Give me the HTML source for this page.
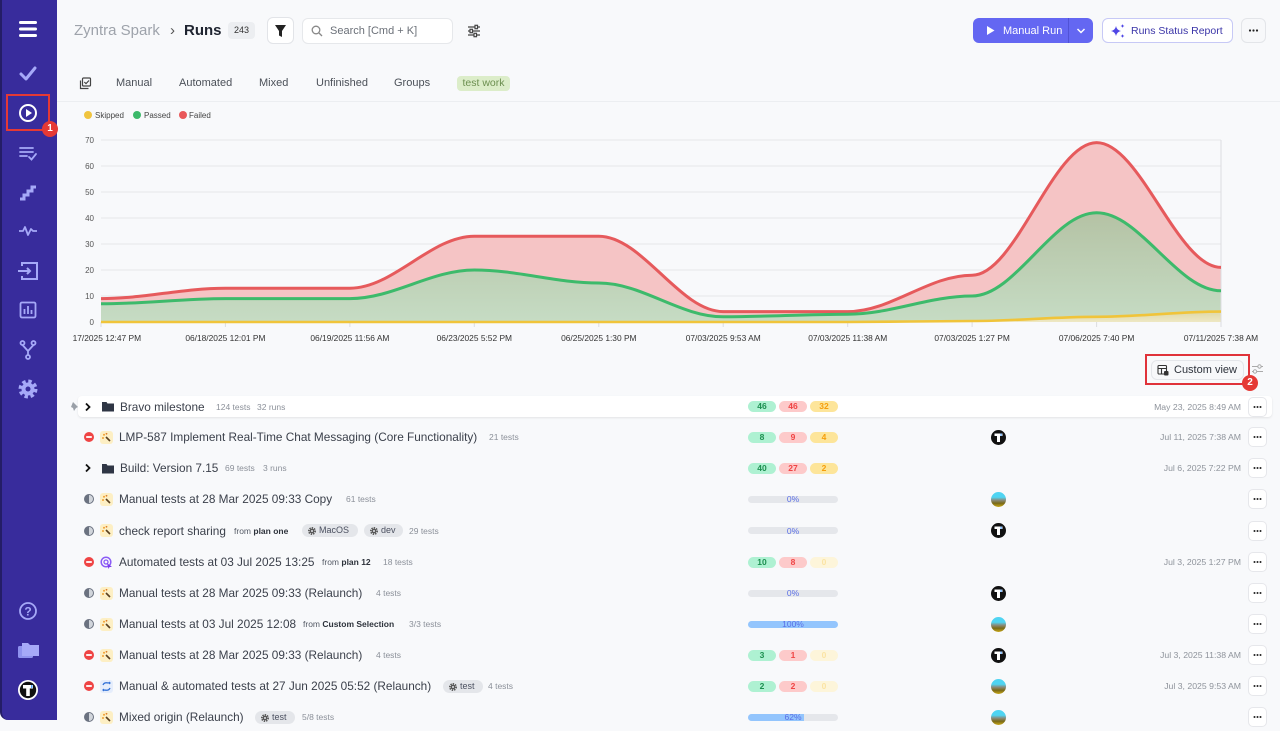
<!DOCTYPE html>
<html><head><meta charset="utf-8">
<style>
*{margin:0;padding:0;box-sizing:border-box}
html,body{width:1280px;height:720px;overflow:hidden;background:#f8f9fb;font-family:"Liberation Sans",Arial,sans-serif;color:#374151}
.abs{position:absolute}
.row{position:absolute;left:0;width:1280px;height:20px}
.t{position:absolute;top:0;line-height:20px;white-space:nowrap}
.title{font-size:11.8px;color:#3b404b}
.sm{font-size:8.5px;color:#8b9099}
.from{font-size:8.5px;color:#555b66}
.from b{color:#2d323b}
.pill{position:absolute;top:4.5px;height:11px;width:28px;border-radius:6px;font-size:8.5px;font-weight:bold;text-align:center;line-height:11px}
.g{left:748px;background:#aef1d2;color:#1c8f4f}
.r{left:779px;background:#fdcaca;color:#ef4444}
.y{left:810px;background:#fde59a;color:#f59e0b}
.y0{left:810px;background:#fdf5da;color:#fbe4a4}
.bar{position:absolute;left:748px;top:6.5px;width:90px;height:7px;border-radius:4px;background:#e5e7eb;overflow:hidden}
.bar i{display:block;height:7px;background:#93c5fd}
.pct{position:absolute;left:748px;width:90px;text-align:center;line-height:20px;font-size:8.5px;color:#5b6fe6}
.date{position:absolute;right:39px;top:0;font-size:8.7px;color:#8e939b;line-height:20px;white-space:nowrap}
.dots{position:absolute;left:1248px;top:0;width:19px;height:20px;border:1px solid #e6e7eb;border-radius:5px;background:#fff}
.av{position:absolute;left:991px;top:2.5px;width:15px;height:15px}
.st{position:absolute;left:84px;top:5px;width:10px;height:10px}
.ty{position:absolute;left:100px;top:3.5px;width:13px;height:13px}
.tag{position:absolute;top:3.5px;height:13px;border-radius:7px;background:#e4e6ea;font-size:9px;color:#4b5060;line-height:13px;padding-left:17px;white-space:nowrap}
.tag svg{position:absolute;left:6px;top:3px}
</style></head>
<body>

<!-- Sidebar -->
<div class="abs" style="left:0;top:0;width:57px;height:720px;background:#382c9c;border-left:2px solid #241d66;border-bottom-left-radius:8px"></div>
<svg class="abs" style="left:0;top:0" width="57" height="720" viewBox="0 0 57 720">
 <g fill="#fff"><rect x="19" y="21" width="18" height="3" rx="1.5"/><rect x="19" y="27.5" width="18" height="3" rx="1.5"/><rect x="19" y="34" width="18" height="3" rx="1.5"/></g>
 <polyline points="21,74 26,79 35,68" fill="none" stroke="#a6a9f8" stroke-width="3" stroke-linecap="round" stroke-linejoin="round"/>
 <circle cx="28" cy="113" r="8" fill="none" stroke="#fff" stroke-width="2"/><path d="M26,109 L26,117 L32,113 Z" fill="#fff"/>
 <g stroke="#a6a9f8" stroke-width="1.8" fill="none" stroke-linecap="round"><path d="M20,148 H33 M20,152 H33 M20,156 H27"/><path d="M29,157 L31.5,159.5 L36,154"/></g>
 <polyline points="20,199 24,199 24,195 28,195 28,191 32,191 32,187 36,187" fill="none" stroke="#a6a9f8" stroke-width="3"/>
 <polyline points="19,231 23,231 25,227 28,235 31,229 33,231 37,231" fill="none" stroke="#a6a9f8" stroke-width="1.8" stroke-linejoin="round"/>
 <g stroke="#a6a9f8" stroke-width="2" fill="none"><path d="M22,266 V263 H37 V279 H22 V276"/><path d="M18,271 H30 M27,268 L30,271 L27,274"/></g>
 <g stroke="#a6a9f8" stroke-width="1.8" fill="none"><rect x="20.5" y="302.5" width="15" height="15" rx="1.5"/><path d="M24.5,314 V309 M28,314 V306 M31.5,314 V310"/></g>
 <g stroke="#a6a9f8" stroke-width="1.8" fill="none"><circle cx="22.5" cy="343" r="2"/><circle cx="33.5" cy="343" r="2"/><circle cx="28" cy="357" r="2"/><path d="M22.5,345 L28,351 L33.5,345 M28,351 V355"/></g>
 <circle cx="28" cy="389" r="7.5" fill="none" stroke="#a6a9f8" stroke-width="4" stroke-dasharray="3.3 2.6"/><circle cx="28" cy="389" r="6.5" fill="#a6a9f8"/><circle cx="28" cy="389" r="2.5" fill="#382c9c"/>
 <circle cx="28" cy="611" r="8" fill="none" stroke="#a6a9f8" stroke-width="1.8"/><text x="28" y="615.5" text-anchor="middle" font-size="12" font-weight="bold" fill="#a6a9f8" font-family="Liberation Sans">?</text>
 <rect x="18" y="646" width="15" height="12" rx="1.5" fill="#8f92ee"/><path d="M22,643 H28 L30,645 H39 V656 H22 Z" fill="#a6a9f8"/>
 <circle cx="28" cy="690" r="10" fill="#fff"/><circle cx="28" cy="690" r="8.2" fill="#111"/><path d="M23,685 H33 V688.5 H29.8 V696 H26.2 V688.5 H23 Z" fill="#fff"/><rect x="31" y="685" width="1.5" height="3" fill="#5aa9ff"/>
</svg>
<div class="abs" style="left:6px;top:94px;width:44px;height:37px;border:2px solid #e53935"></div>
<div class="abs" style="left:42px;top:121px;width:16px;height:16px;border-radius:50%;background:#e53935;color:#fff;font-size:10px;font-weight:bold;text-align:center;line-height:16px">1</div>

<!-- Header -->
<div class="abs" style="left:74px;top:21px;font-size:15px;color:#9ea3ab;line-height:20px">Zyntra Spark</div>
<div class="abs" style="left:170px;top:21px;font-size:15px;color:#555;line-height:20px">›</div>
<div class="abs" style="left:184px;top:21px;font-size:15px;font-weight:bold;color:#1f2430;line-height:20px">Runs</div>
<div class="abs" style="left:228px;top:22px;width:27px;height:17px;border-radius:4px;background:#eceef1;font-size:9px;color:#333;text-align:center;line-height:17px">243</div>
<div class="abs" style="left:267px;top:17px;width:27px;height:27px;border-radius:6px;background:#fff;border:1px solid #e2e4e8"></div>
<svg class="abs" style="left:267px;top:17px" width="27" height="27"><path d="M8,8 H19 L15,14 V20 L12,18.5 V14 Z" fill="#222"/></svg>
<div class="abs" style="left:302px;top:18px;width:151px;height:26px;border-radius:6px;background:#fff;border:1px solid #e6e8eb"></div>
<svg class="abs" style="left:311px;top:25px" width="12" height="12"><circle cx="5" cy="5" r="3.8" fill="none" stroke="#888" stroke-width="1.3"/><path d="M8,8 L11,11" stroke="#888" stroke-width="1.3"/></svg>
<div class="abs" style="left:330px;top:21px;font-size:11px;color:#6b7078;line-height:20px">Search [Cmd + K]</div>
<svg class="abs" style="left:467px;top:24px" width="14" height="14"><g stroke="#444" stroke-width="1.3"><path d="M1,3 H13 M1,7 H13 M1,11 H13"/></g><g fill="#f8f9fb" stroke="#444" stroke-width="1.2"><rect x="8" y="1.3" width="2.5" height="3.4"/><rect x="3" y="5.3" width="2.5" height="3.4"/><rect x="7" y="9.3" width="2.5" height="3.4"/></g></svg>

<div class="abs" style="left:973px;top:18px;width:120px;height:25px;border-radius:6px;background:#6467f2"></div>
<div class="abs" style="left:1068px;top:18px;width:1px;height:25px;background:#5052d6"></div>
<svg class="abs" style="left:986px;top:25px" width="10" height="11"><path d="M1,1 L1,10 L8.5,5.5 Z" fill="#fff"/></svg>
<div class="abs" style="left:1003px;top:20.5px;font-size:11px;color:#fff;line-height:20px">Manual Run</div>
<svg class="abs" style="left:1076px;top:27px" width="10" height="8"><path d="M1.5,2 L5,5.5 L8.5,2" fill="none" stroke="#fff" stroke-width="1.5"/></svg>
<div class="abs" style="left:1102px;top:18px;width:131px;height:25px;border-radius:6px;background:#fff;border:1px solid #c7c9f6"></div>
<svg class="abs" style="left:1110px;top:23px" width="16" height="16"><path d="M6,3 Q6.8,7.2 11,8 Q6.8,8.8 6,13 Q5.2,8.8 1,8 Q5.2,7.2 6,3 Z" fill="#4f46e5"/><path d="M12.5,1 Q12.8,2.7 14.5,3 Q12.8,3.3 12.5,5 Q12.2,3.3 10.5,3 Q12.2,2.7 12.5,1 Z" fill="#4f46e5"/><path d="M12.5,11 Q12.8,12.7 14.5,13 Q12.8,13.3 12.5,15 Q12.2,13.3 10.5,13 Q12.2,12.7 12.5,11 Z" fill="#4f46e5"/></svg>
<div class="abs" style="left:1131px;top:20.5px;font-size:10.5px;color:#3b35a8;line-height:20px">Runs Status Report</div>
<div class="abs" style="left:1241px;top:18px;width:25px;height:25px;border-radius:6px;background:#f7f8fa;border:1px solid #e3e5e9"></div>
<svg class="abs" style="left:1241px;top:18px" width="25" height="25"><g fill="#222"><circle cx="9" cy="12.5" r="1.1"/><circle cx="12.5" cy="12.5" r="1.1"/><circle cx="16" cy="12.5" r="1.1"/></g></svg>

<!-- Tabs -->
<svg class="abs" style="left:79px;top:77px" width="13" height="13"><g fill="none" stroke="#444" stroke-width="1.2"><rect x="3.5" y="1" width="8" height="8" rx="1"/><path d="M1.5,3.5 V11.5 H9.5"/><path d="M5.3,5 L7,6.7 L10,3.5"/></g></svg>
<div class="abs" style="left:116px;top:73px;font-size:11px;color:#4b5058;line-height:20px">Manual</div>
<div class="abs" style="left:179px;top:73px;font-size:11px;color:#4b5058;line-height:20px">Automated</div>
<div class="abs" style="left:259px;top:73px;font-size:11px;color:#4b5058;line-height:20px">Mixed</div>
<div class="abs" style="left:316px;top:73px;font-size:11px;color:#4b5058;line-height:20px">Unfinished</div>
<div class="abs" style="left:394px;top:73px;font-size:11px;color:#4b5058;line-height:20px">Groups</div>
<div class="abs" style="left:457px;top:75.5px;width:53px;height:15px;border-radius:4px;background:#dcedc9;font-size:10.5px;color:#6c8f50;text-align:center;line-height:15px">test work</div>
<div class="abs" style="left:57px;top:101px;width:1223px;height:1px;background:#eceef1"></div>

<!-- Chart -->
<svg class="abs" style="left:73px;top:103px" width="1207" height="245" viewBox="73 103 1207 245">
 <defs>
  <linearGradient id="gg" gradientUnits="userSpaceOnUse" x1="0" y1="212" x2="0" y2="322"><stop offset="0" stop-color="#b4c2a4"/><stop offset="1" stop-color="#c6dcc4"/></linearGradient>
  <linearGradient id="yg" gradientUnits="userSpaceOnUse" x1="0" y1="311" x2="0" y2="322"><stop offset="0" stop-color="#ddd7a6"/><stop offset="1" stop-color="#eee8c4"/></linearGradient>
 </defs>
 <g font-family="Liberation Sans" font-size="8" fill="#444">
  <circle cx="88" cy="115" r="4" fill="#f0c43f"/><text x="95" y="118">Skipped</text>
  <circle cx="137" cy="115" r="4" fill="#3cb96a"/><text x="144" y="118">Passed</text>
  <circle cx="183" cy="115" r="4" fill="#e9585a"/><text x="189" y="118">Failed</text>
 </g>
 <g stroke="#e6e7ea" stroke-width="1">
  <path d="M101,140 H1221 M101,166 H1221 M101,192 H1221 M101,218 H1221 M101,244 H1221 M101,270 H1221 M101,296 H1221"/>
 </g>
 <g font-family="Liberation Sans" font-size="8" fill="#555" text-anchor="end">
  <text x="94" y="143">70</text><text x="94" y="169">60</text><text x="94" y="195">50</text><text x="94" y="221">40</text><text x="94" y="247">30</text><text x="94" y="273">20</text><text x="94" y="299">10</text><text x="94" y="325">0</text>
 </g>
 <path d="M101,298.6 C144.5,298.6 181.9,288.2 225.4,288.2 C268.9,288.2 306.4,288.2 349.9,288.2 C393.4,288.2 430.8,236.2 474.3,236.2 C517.8,236.2 555.3,236.2 598.8,236.2 C642.3,236.2 679.7,311.6 723.2,311.6 C766.7,311.6 804.2,311.6 847.7,311.6 C891.2,311.6 928.6,275.2 972.1,275.2 C1015.6,275.2 1053.1,142.6 1096.6,142.6 C1140.1,142.6 1177.5,267.4 1221,267.4 L1221,322 L101,322 Z" fill="#f5c4c5"/>
 <path d="M101,303.8 C144.5,303.8 181.9,298.6 225.4,298.6 C268.9,298.6 306.4,298.6 349.9,298.6 C393.4,298.6 430.8,270 474.3,270 C517.8,270 555.3,283 598.8,283 C642.3,283 679.7,316.8 723.2,316.8 C766.7,316.8 804.2,314.2 847.7,314.2 C891.2,314.2 928.6,296 972.1,296 C1015.6,296 1053.1,212.8 1096.6,212.8 C1140.1,212.8 1177.5,290.8 1221,290.8 L1221,322 L101,322 Z" fill="url(#gg)"/>
 <path d="M101,322 L847.7,322 C891.2,322 928.6,321 972.1,321 C1015.6,321 1053.1,316.8 1096.6,316.8 C1140.1,316.8 1177.5,311.6 1221,311.6 L1221,322 Z" fill="url(#yg)"/>
 <g stroke="#dcdde0" stroke-width="1"><path d="M101,322 V327 M225.4,322 V327 M349.9,322 V327 M474.3,322 V327 M598.8,322 V327 M723.2,322 V327 M847.7,322 V327 M972.1,322 V327 M1096.6,322 V327 M1221,322 V327 M1221,140 V322"/></g>
 <path d="M101,298.6 C144.5,298.6 181.9,288.2 225.4,288.2 C268.9,288.2 306.4,288.2 349.9,288.2 C393.4,288.2 430.8,236.2 474.3,236.2 C517.8,236.2 555.3,236.2 598.8,236.2 C642.3,236.2 679.7,311.6 723.2,311.6 C766.7,311.6 804.2,311.6 847.7,311.6 C891.2,311.6 928.6,275.2 972.1,275.2 C1015.6,275.2 1053.1,142.6 1096.6,142.6 C1140.1,142.6 1177.5,267.4 1221,267.4" fill="none" stroke="#e65a5c" stroke-width="3"/>
 <path d="M101,303.8 C144.5,303.8 181.9,298.6 225.4,298.6 C268.9,298.6 306.4,298.6 349.9,298.6 C393.4,298.6 430.8,270 474.3,270 C517.8,270 555.3,283 598.8,283 C642.3,283 679.7,316.8 723.2,316.8 C766.7,316.8 804.2,314.2 847.7,314.2 C891.2,314.2 928.6,296 972.1,296 C1015.6,296 1053.1,212.8 1096.6,212.8 C1140.1,212.8 1177.5,290.8 1221,290.8" fill="none" stroke="#3dba6b" stroke-width="3"/>
 <path d="M101,322 L847.7,322 C891.2,322 928.6,321 972.1,321 C1015.6,321 1053.1,316.8 1096.6,316.8 C1140.1,316.8 1177.5,311.6 1221,311.6" fill="none" stroke="#f0c43a" stroke-width="2.6"/>
 <g font-family="Liberation Sans" font-size="8.4" fill="#333" text-anchor="middle">
  <text x="101" y="341">06/17/2025 12:47 PM</text>
  <text x="225.4" y="341">06/18/2025 12:01 PM</text>
  <text x="349.9" y="341">06/19/2025 11:56 AM</text>
  <text x="474.3" y="341">06/23/2025 5:52 PM</text>
  <text x="598.8" y="341">06/25/2025 1:30 PM</text>
  <text x="723.2" y="341">07/03/2025 9:53 AM</text>
  <text x="847.7" y="341">07/03/2025 11:38 AM</text>
  <text x="972.1" y="341">07/03/2025 1:27 PM</text>
  <text x="1096.6" y="341">07/06/2025 7:40 PM</text>
  <text x="1221" y="341">07/11/2025 7:38 AM</text>
 </g>
</svg>

<!-- Custom view -->
<div class="abs" style="left:1151px;top:360px;width:93px;height:20px;border-radius:6px;background:#f7f8fa;border:1px solid #e4e6ea"></div>
<svg class="abs" style="left:1157px;top:364px" width="12" height="12"><g fill="none" stroke="#333" stroke-width="1.1"><rect x="1" y="1.5" width="8.5" height="8.5" rx="1"/><path d="M1,4.5 H9.5 M4.5,4.5 V10"/></g><rect x="7" y="7" width="4.5" height="4.5" rx="1" fill="#333"/></svg>
<div class="abs" style="left:1174px;top:360px;font-size:11px;color:#2d323b;line-height:20px">Custom view</div>
<div class="abs" style="left:1145px;top:354px;width:105px;height:31px;border:2px solid #e0333a"></div>
<div class="abs" style="left:1242px;top:375px;width:16px;height:16px;border-radius:50%;background:#e53935;color:#fff;font-size:10px;font-weight:bold;text-align:center;line-height:16px">2</div>
<svg class="abs" style="left:1251px;top:363px" width="13" height="12"><g stroke="#aaa" stroke-width="1" fill="#f8f9fb"><path d="M1,3.5 H12 M1,8.5 H12"/><circle cx="8.5" cy="3.5" r="1.7"/><circle cx="4" cy="8.5" r="1.7"/></g></svg>

<!-- Row 1 -->
<div class="abs" style="left:78px;top:396px;width:1194px;height:21px;background:#fff;border-radius:4px;box-shadow:0 1px 2px rgba(0,0,0,0.09)"></div>
<div class="row" style="top:396.5px">
 <svg class="abs" style="left:70px;top:4px" width="10" height="11"><path d="M3,1 L8,6 L6,7 L4,10 L3,7 L1,6 Z" fill="#9aa0a8"/></svg>
 <svg class="abs" style="left:84px;top:5px" width="8" height="10"><path d="M2,1.5 L5.5,5 L2,8.5" fill="none" stroke="#111" stroke-width="1.8"/></svg>
 <svg class="abs" style="left:102px;top:4.5px" width="12" height="11"><path d="M0,1 H4.5 L5.5,2.5 H12 V10.5 H0 Z" fill="#2f3645"/></svg>
 <div class="t title" style="left:120px">Bravo milestone</div>
 <div class="t sm" style="left:216px">124 tests</div><div class="t sm" style="left:257px">32 runs</div>
 <div class="pill g">46</div><div class="pill r">46</div><div class="pill y">32</div>
 <div class="date">May 23, 2025 8:49 AM</div>
 <div class="dots"><svg width="17" height="18"><g fill="#222"><circle cx="5.5" cy="9" r="1"/><circle cx="8.5" cy="9" r="1"/><circle cx="11.5" cy="9" r="1"/></g></svg></div>
</div>

<!-- Row 2 -->
<div class="row" style="top:427px">
 <svg class="st"><circle cx="5" cy="5" r="5" fill="#ef4444"/><rect x="2.2" y="4.1" width="5.6" height="1.8" fill="#fff"/></svg>
 <svg class="ty"><rect width="13" height="13" rx="3" fill="#fdefc4"/><circle cx="4" cy="3.8" r="1" fill="#f0a030"/><circle cx="3" cy="7" r="1" fill="#f0a030"/><circle cx="6.5" cy="2.8" r="0.9" fill="#e0802a"/><path d="M6,6 L10,10" stroke="#5a4020" stroke-width="1.6"/></svg>
 <div class="t title" style="left:119px">LMP-587 Implement Real-Time Chat Messaging (Core Functionality)</div>
 <div class="t sm" style="left:489px">21 tests</div>
 <div class="pill g">8</div><div class="pill r">9</div><div class="pill y">4</div>
 <svg class="av"><circle cx="7.5" cy="7.5" r="7.5" fill="#111"/><path d="M3.5,3.5 H11.5 V6 H9 V12 H6 V6 H3.5 Z" fill="#fff"/><rect x="9.5" y="3.5" width="1.2" height="2.5" fill="#5aa9ff"/></svg>
 <div class="date">Jul 11, 2025 7:38 AM</div>
 <div class="dots"><svg width="17" height="18"><g fill="#222"><circle cx="5.5" cy="9" r="1"/><circle cx="8.5" cy="9" r="1"/><circle cx="11.5" cy="9" r="1"/></g></svg></div>
</div>

<!-- Row 3 -->
<div class="row" style="top:458px">
 <svg class="abs" style="left:84px;top:5px" width="8" height="10"><path d="M2,1.5 L5.5,5 L2,8.5" fill="none" stroke="#111" stroke-width="1.8"/></svg>
 <svg class="abs" style="left:102px;top:4.5px" width="12" height="11"><path d="M0,1 H4.5 L5.5,2.5 H12 V10.5 H0 Z" fill="#2f3645"/></svg>
 <div class="t title" style="left:120px">Build: Version 7.15</div>
 <div class="t sm" style="left:225px">69 tests</div><div class="t sm" style="left:263px">3 runs</div>
 <div class="pill g">40</div><div class="pill r">27</div><div class="pill y">2</div>
 <div class="date">Jul 6, 2025 7:22 PM</div>
 <div class="dots"><svg width="17" height="18"><g fill="#222"><circle cx="5.5" cy="9" r="1"/><circle cx="8.5" cy="9" r="1"/><circle cx="11.5" cy="9" r="1"/></g></svg></div>
</div>

<!-- Row 4 -->
<div class="row" style="top:489px">
 <svg class="st"><circle cx="5" cy="5" r="4.5" fill="#d1d5db" stroke="#6b7280" stroke-width="1"/><path d="M5,0.5 A4.5,4.5 0 0 0 5,9.5 Z" fill="#6b7280"/></svg>
 <svg class="ty"><rect width="13" height="13" rx="3" fill="#fdefc4"/><circle cx="4" cy="3.8" r="1" fill="#f0a030"/><circle cx="3" cy="7" r="1" fill="#f0a030"/><circle cx="6.5" cy="2.8" r="0.9" fill="#e0802a"/><path d="M6,6 L10,10" stroke="#5a4020" stroke-width="1.6"/></svg>
 <div class="t title" style="left:119px">Manual tests at 28 Mar 2025 09:33 Copy</div>
 <div class="t sm" style="left:346px">61 tests</div>
 <div class="bar"></div><div class="pct">0%</div>
 <svg class="av"><defs><linearGradient id="a1" x1="0" y1="0" x2="0" y2="1"><stop offset="0.35" stop-color="#4fd4f2"/><stop offset="0.55" stop-color="#8a8a7a"/><stop offset="0.75" stop-color="#7a6a18"/><stop offset="1" stop-color="#c9a818"/></linearGradient></defs><circle cx="7.5" cy="7.5" r="7.5" fill="url(#a1)"/></svg>
 <div class="dots"><svg width="17" height="18"><g fill="#222"><circle cx="5.5" cy="9" r="1"/><circle cx="8.5" cy="9" r="1"/><circle cx="11.5" cy="9" r="1"/></g></svg></div>
</div>

<!-- Row 5 -->
<div class="row" style="top:520.5px">
 <svg class="st"><circle cx="5" cy="5" r="4.5" fill="#d1d5db" stroke="#6b7280" stroke-width="1"/><path d="M5,0.5 A4.5,4.5 0 0 0 5,9.5 Z" fill="#6b7280"/></svg>
 <svg class="ty"><rect width="13" height="13" rx="3" fill="#fdefc4"/><circle cx="4" cy="3.8" r="1" fill="#f0a030"/><circle cx="3" cy="7" r="1" fill="#f0a030"/><circle cx="6.5" cy="2.8" r="0.9" fill="#e0802a"/><path d="M6,6 L10,10" stroke="#5a4020" stroke-width="1.6"/></svg>
 <div class="t title" style="left:119px">check report sharing</div>
 <div class="t from" style="left:234px">from <b>plan one</b></div>
 <div class="tag" style="left:302px;width:56px"><svg width="8" height="8"><circle cx="4" cy="4" r="3.2" fill="none" stroke="#555" stroke-width="1.6" stroke-dasharray="1.4 1"/><circle cx="4" cy="4" r="2.4" fill="#555"/><circle cx="4" cy="4" r="1" fill="#e4e6ea"/></svg>MacOS</div>
 <div class="tag" style="left:364px;width:39px"><svg width="8" height="8"><circle cx="4" cy="4" r="3.2" fill="none" stroke="#555" stroke-width="1.6" stroke-dasharray="1.4 1"/><circle cx="4" cy="4" r="2.4" fill="#555"/><circle cx="4" cy="4" r="1" fill="#e4e6ea"/></svg>dev</div>
 <div class="t sm" style="left:409px">29 tests</div>
 <div class="bar"></div><div class="pct">0%</div>
 <svg class="av"><circle cx="7.5" cy="7.5" r="7.5" fill="#111"/><path d="M3.5,3.5 H11.5 V6 H9 V12 H6 V6 H3.5 Z" fill="#fff"/><rect x="9.5" y="3.5" width="1.2" height="2.5" fill="#5aa9ff"/></svg>
 <div class="dots"><svg width="17" height="18"><g fill="#222"><circle cx="5.5" cy="9" r="1"/><circle cx="8.5" cy="9" r="1"/><circle cx="11.5" cy="9" r="1"/></g></svg></div>
</div>

<!-- Row 6 -->
<div class="row" style="top:552px">
 <svg class="st"><circle cx="5" cy="5" r="5" fill="#ef4444"/><rect x="2.2" y="4.1" width="5.6" height="1.8" fill="#fff"/></svg>
 <svg class="ty"><circle cx="6" cy="6" r="4.8" fill="none" stroke="#8b5cf6" stroke-width="1.5"/><circle cx="6" cy="6" r="2" fill="none" stroke="#8b5cf6" stroke-width="1.3"/><path d="M7,7 L12,11 L9.5,11 L8.5,13 Z" fill="#7c3aed"/></svg>
 <div class="t title" style="left:119px">Automated tests at 03 Jul 2025 13:25</div>
 <div class="t from" style="left:322px">from <b>plan 12</b></div>
 <div class="t sm" style="left:383px">18 tests</div>
 <div class="pill g">10</div><div class="pill r">8</div><div class="pill y0">0</div>
 <div class="date">Jul 3, 2025 1:27 PM</div>
 <div class="dots"><svg width="17" height="18"><g fill="#222"><circle cx="5.5" cy="9" r="1"/><circle cx="8.5" cy="9" r="1"/><circle cx="11.5" cy="9" r="1"/></g></svg></div>
</div>

<!-- Row 7 -->
<div class="row" style="top:583px">
 <svg class="st"><circle cx="5" cy="5" r="4.5" fill="#d1d5db" stroke="#6b7280" stroke-width="1"/><path d="M5,0.5 A4.5,4.5 0 0 0 5,9.5 Z" fill="#6b7280"/></svg>
 <svg class="ty"><rect width="13" height="13" rx="3" fill="#fdefc4"/><circle cx="4" cy="3.8" r="1" fill="#f0a030"/><circle cx="3" cy="7" r="1" fill="#f0a030"/><circle cx="6.5" cy="2.8" r="0.9" fill="#e0802a"/><path d="M6,6 L10,10" stroke="#5a4020" stroke-width="1.6"/></svg>
 <div class="t title" style="left:119px">Manual tests at 28 Mar 2025 09:33 (Relaunch)</div>
 <div class="t sm" style="left:376px">4 tests</div>
 <div class="bar"></div><div class="pct">0%</div>
 <svg class="av"><circle cx="7.5" cy="7.5" r="7.5" fill="#111"/><path d="M3.5,3.5 H11.5 V6 H9 V12 H6 V6 H3.5 Z" fill="#fff"/><rect x="9.5" y="3.5" width="1.2" height="2.5" fill="#5aa9ff"/></svg>
 <div class="dots"><svg width="17" height="18"><g fill="#222"><circle cx="5.5" cy="9" r="1"/><circle cx="8.5" cy="9" r="1"/><circle cx="11.5" cy="9" r="1"/></g></svg></div>
</div>

<!-- Row 8 -->
<div class="row" style="top:614px">
 <svg class="st"><circle cx="5" cy="5" r="4.5" fill="#d1d5db" stroke="#6b7280" stroke-width="1"/><path d="M5,0.5 A4.5,4.5 0 0 0 5,9.5 Z" fill="#6b7280"/></svg>
 <svg class="ty"><rect width="13" height="13" rx="3" fill="#fdefc4"/><circle cx="4" cy="3.8" r="1" fill="#f0a030"/><circle cx="3" cy="7" r="1" fill="#f0a030"/><circle cx="6.5" cy="2.8" r="0.9" fill="#e0802a"/><path d="M6,6 L10,10" stroke="#5a4020" stroke-width="1.6"/></svg>
 <div class="t title" style="left:119px">Manual tests at 03 Jul 2025 12:08</div>
 <div class="t from" style="left:303px">from <b>Custom Selection</b></div>
 <div class="t sm" style="left:409px">3/3 tests</div>
 <div class="bar"><i style="width:100%"></i></div><div class="pct">100%</div>
 <svg class="av"><defs><linearGradient id="a2" x1="0" y1="0" x2="0" y2="1"><stop offset="0.35" stop-color="#4fd4f2"/><stop offset="0.55" stop-color="#8a8a7a"/><stop offset="0.75" stop-color="#7a6a18"/><stop offset="1" stop-color="#c9a818"/></linearGradient></defs><circle cx="7.5" cy="7.5" r="7.5" fill="url(#a2)"/></svg>
 <div class="dots"><svg width="17" height="18"><g fill="#222"><circle cx="5.5" cy="9" r="1"/><circle cx="8.5" cy="9" r="1"/><circle cx="11.5" cy="9" r="1"/></g></svg></div>
</div>

<!-- Row 9 -->
<div class="row" style="top:645px">
 <svg class="st"><circle cx="5" cy="5" r="5" fill="#ef4444"/><rect x="2.2" y="4.1" width="5.6" height="1.8" fill="#fff"/></svg>
 <svg class="ty"><rect width="13" height="13" rx="3" fill="#fdefc4"/><circle cx="4" cy="3.8" r="1" fill="#f0a030"/><circle cx="3" cy="7" r="1" fill="#f0a030"/><circle cx="6.5" cy="2.8" r="0.9" fill="#e0802a"/><path d="M6,6 L10,10" stroke="#5a4020" stroke-width="1.6"/></svg>
 <div class="t title" style="left:119px">Manual tests at 28 Mar 2025 09:33 (Relaunch)</div>
 <div class="t sm" style="left:376px">4 tests</div>
 <div class="pill g">3</div><div class="pill r">1</div><div class="pill y0">0</div>
 <svg class="av"><circle cx="7.5" cy="7.5" r="7.5" fill="#111"/><path d="M3.5,3.5 H11.5 V6 H9 V12 H6 V6 H3.5 Z" fill="#fff"/><rect x="9.5" y="3.5" width="1.2" height="2.5" fill="#5aa9ff"/></svg>
 <div class="date">Jul 3, 2025 11:38 AM</div>
 <div class="dots"><svg width="17" height="18"><g fill="#222"><circle cx="5.5" cy="9" r="1"/><circle cx="8.5" cy="9" r="1"/><circle cx="11.5" cy="9" r="1"/></g></svg></div>
</div>

<!-- Row 10 -->
<div class="row" style="top:676px">
 <svg class="st"><circle cx="5" cy="5" r="5" fill="#ef4444"/><rect x="2.2" y="4.1" width="5.6" height="1.8" fill="#fff"/></svg>
 <svg class="ty"><rect width="13" height="13" rx="3" fill="#e5edfb"/><g fill="none" stroke="#2f6fd6" stroke-width="1.3"><path d="M3,5 Q4,2.5 7,2.8 L10,3"/><path d="M10,8 Q9,10.5 6,10.2 L3,10"/></g><path d="M9,1.5 L11,3 L9,4.5 Z M4,8.5 L2,10 L4,11.5 Z" fill="#2f6fd6"/></svg>
 <div class="t title" style="left:119px">Manual &amp; automated tests at 27 Jun 2025 05:52 (Relaunch)</div>
 <div class="tag" style="left:443px;width:40px"><svg width="8" height="8"><circle cx="4" cy="4" r="3.2" fill="none" stroke="#555" stroke-width="1.6" stroke-dasharray="1.4 1"/><circle cx="4" cy="4" r="2.4" fill="#555"/><circle cx="4" cy="4" r="1" fill="#e4e6ea"/></svg>test</div>
 <div class="t sm" style="left:488px">4 tests</div>
 <div class="pill g">2</div><div class="pill r">2</div><div class="pill y0">0</div>
 <svg class="av"><defs><linearGradient id="a3" x1="0" y1="0" x2="0" y2="1"><stop offset="0.35" stop-color="#4fd4f2"/><stop offset="0.55" stop-color="#8a8a7a"/><stop offset="0.75" stop-color="#7a6a18"/><stop offset="1" stop-color="#c9a818"/></linearGradient></defs><circle cx="7.5" cy="7.5" r="7.5" fill="url(#a3)"/></svg>
 <div class="date">Jul 3, 2025 9:53 AM</div>
 <div class="dots"><svg width="17" height="18"><g fill="#222"><circle cx="5.5" cy="9" r="1"/><circle cx="8.5" cy="9" r="1"/><circle cx="11.5" cy="9" r="1"/></g></svg></div>
</div>

<!-- Row 11 -->
<div class="row" style="top:707px">
 <svg class="st"><circle cx="5" cy="5" r="4.5" fill="#d1d5db" stroke="#6b7280" stroke-width="1"/><path d="M5,0.5 A4.5,4.5 0 0 0 5,9.5 Z" fill="#6b7280"/></svg>
 <svg class="ty"><rect width="13" height="13" rx="3" fill="#fdefc4"/><circle cx="4" cy="3.8" r="1" fill="#f0a030"/><circle cx="3" cy="7" r="1" fill="#f0a030"/><circle cx="6.5" cy="2.8" r="0.9" fill="#e0802a"/><path d="M6,6 L10,10" stroke="#5a4020" stroke-width="1.6"/></svg>
 <div class="t title" style="left:119px">Mixed origin (Relaunch)</div>
 <div class="tag" style="left:255px;width:40px"><svg width="8" height="8"><circle cx="4" cy="4" r="3.2" fill="none" stroke="#555" stroke-width="1.6" stroke-dasharray="1.4 1"/><circle cx="4" cy="4" r="2.4" fill="#555"/><circle cx="4" cy="4" r="1" fill="#e4e6ea"/></svg>test</div>
 <div class="t sm" style="left:302px">5/8 tests</div>
 <div class="bar"><i style="width:62%"></i></div><div class="pct">62%</div>
 <svg class="av"><defs><linearGradient id="a4" x1="0" y1="0" x2="0" y2="1"><stop offset="0.35" stop-color="#4fd4f2"/><stop offset="0.55" stop-color="#8a8a7a"/><stop offset="0.75" stop-color="#7a6a18"/><stop offset="1" stop-color="#c9a818"/></linearGradient></defs><circle cx="7.5" cy="7.5" r="7.5" fill="url(#a4)"/></svg>
 <div class="dots"><svg width="17" height="18"><g fill="#222"><circle cx="5.5" cy="9" r="1"/><circle cx="8.5" cy="9" r="1"/><circle cx="11.5" cy="9" r="1"/></g></svg></div>
</div>

</body></html>
